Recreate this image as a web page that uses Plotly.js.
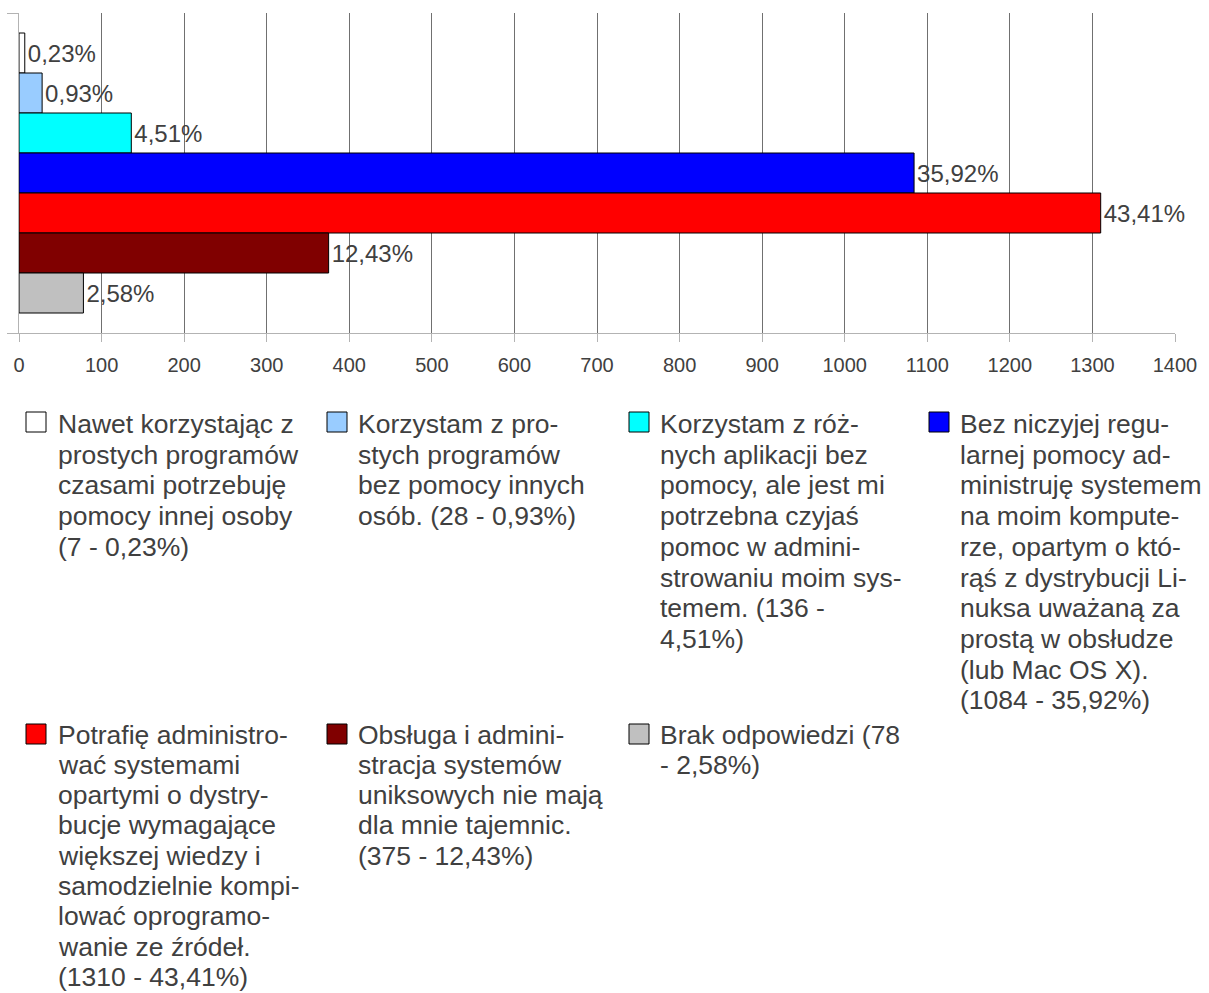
<!DOCTYPE html>
<html>
<head>
<meta charset="utf-8">
<script src="https://cdn.plot.ly/plotly-3.0.1.min.js"></script>
<style>
  html, body { margin: 0; padding: 0; background: #ffffff; }
  #chart { width: 1209px; height: 993px; }
</style>
</head>
<body>
<div id="chart"></div>
<script>
// ---- data ----
const category = ['odpowiedź'];
const counts = [7, 28, 136, 1084, 1310, 375, 78];
const percentLabels = ['0,23%', '0,93%', '4,51%', '35,92%', '43,41%', '12,43%', '2,58%'];
const seriesColors = ['#ffffff', '#99ccff', '#00ffff', '#0000ff', '#ff0000', '#800000', '#c0c0c0'];
const legendLines = [
  ['Nawet korzystając z', 'prostych programów', 'czasami potrzebuję', 'pomocy innej osoby', '(7 - 0,23%)'],
  ['Korzystam z pro-', 'stych programów', 'bez pomocy innych', 'osób. (28 - 0,93%)'],
  ['Korzystam z róż-', 'nych aplikacji bez', 'pomocy, ale jest mi', 'potrzebna czyjaś', 'pomoc w admini-', 'strowaniu moim sys-', 'temem. (136 -', '4,51%)'],
  ['Bez niczyjej regu-', 'larnej pomocy ad-', 'ministruję systemem', 'na moim kompute-', 'rze, opartym o któ-', 'rąś z dystrybucji Li-', 'nuksa uważaną za', 'prostą w obsłudze', '(lub Mac OS X).', '(1084 - 35,92%)'],
  ['Potrafię administro-', 'wać systemami', 'opartymi o dystry-', 'bucje wymagające', 'większej wiedzy i', 'samodzielnie kompi-', 'lować oprogramo-', 'wanie ze źródeł.', '(1310 - 43,41%)'],
  ['Obsługa i admini-', 'stracja systemów', 'uniksowych nie mają', 'dla mnie tajemnic.', '(375 - 12,43%)'],
  ['Brak odpowiedzi (78', '- 2,58%)']
];
const xTickVals = [0, 100, 200, 300, 400, 500, 600, 700, 800, 900, 1000, 1100, 1200, 1300, 1400];

// ---- layout geometry ----
const W = 1209, H = 993;
const M = { l: 19, r: 34, t: 13, b: 660 };
const plotW = W - M.l - M.r;
const plotH = H - M.t - M.b;
const px2x = p => (p - M.l) / plotW;
const px2y = p => (H - M.b - p) / plotH;

const FONT = '"Liberation Sans", Arial, sans-serif';
const TEXT_COLOR = '#404040';

const traces = counts.map((v, i) => ({
  type: 'bar',
  orientation: 'h',
  name: legendLines[i].join(' '),
  y: category,
  x: [v],
  text: [percentLabels[i]],
  textposition: 'outside',
  constraintext: 'none',
  cliponaxis: false,
  textfont: { family: FONT, size: 24, color: TEXT_COLOR },
  marker: { color: seriesColors[i], line: { color: '#000000', width: 1 } },
  hoverinfo: 'x+name',
  showlegend: false
}));

// legend drawn as real text + key squares
const colTextX = [57, 357, 659, 959];
const colKeyX = [26, 327, 629, 929];
const rowFirstLineY = [424, 734.5];
const rowKeyTop = [412, 724];
const rowLineStep = [30.7, 30.3];
const keySize = 20;

const annotations = [];
const shapes = [];
legendLines.forEach((lines, i) => {
  const col = i % 4, row = Math.floor(i / 4);
  lines.forEach((ln, j) => {
    annotations.push({
      xref: 'paper', yref: 'paper',
      x: px2x(colTextX[col]), y: px2y(rowFirstLineY[row] + j * rowLineStep[row]),
      xanchor: 'left', yanchor: 'middle',
      text: ln, showarrow: false, borderpad: 0,
      font: { family: FONT, size: 26.5, color: TEXT_COLOR }
    });
  });
  shapes.push({
    type: 'rect', xref: 'paper', yref: 'paper',
    x0: px2x(colKeyX[col]), x1: px2x(colKeyX[col] + keySize),
    y0: px2y(rowKeyTop[row]), y1: px2y(rowKeyTop[row] + keySize),
    fillcolor: seriesColors[i],
    line: { color: '#000000', width: 1 }
  });
});

const layout = {
  width: W, height: H,
  margin: M,
  paper_bgcolor: '#ffffff',
  plot_bgcolor: '#ffffff',
  font: { family: FONT, color: TEXT_COLOR },
  barmode: 'group',
  bargap: 0.125,
  bargroupgap: 0,
  showlegend: false,
  xaxis: {
    range: [0, 1400],
    tickvals: xTickVals,
    ticktext: xTickVals.map(String),
    showgrid: true, gridcolor: '#707070', gridwidth: 1,
    zeroline: false,
    showline: true, linecolor: '#b3b3b3', linewidth: 1,
    ticks: 'outside', ticklen: 8, tickcolor: '#b3b3b3',
    ticklabelstandoff: 6,
    tickfont: { family: FONT, size: 20, color: TEXT_COLOR },
    fixedrange: true
  },
  yaxis: {
    type: 'category',
    range: [0.5, -0.5],
    showticklabels: false,
    tickson: 'boundaries',
    ticks: 'outside', ticklen: 11, tickcolor: '#b3b3b3',
    showgrid: true, gridcolor: '#707070',
    showline: true, linecolor: '#b3b3b3', linewidth: 1,
    zeroline: false,
    fixedrange: true
  },
  annotations: annotations,
  shapes: shapes
};

Plotly.newPlot('chart', traces, layout, { displayModeBar: false, staticPlot: true });
</script>
</body>
</html>
